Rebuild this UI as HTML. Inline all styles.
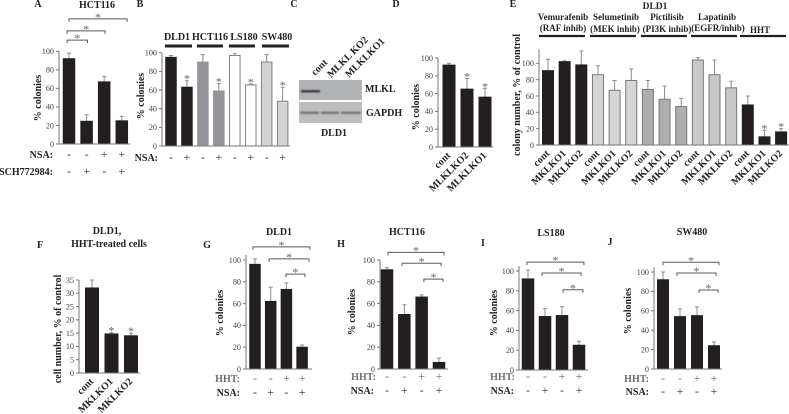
<!DOCTYPE html>
<html lang="en">
<head>
<meta charset="utf-8">
<title>Colony formation figure panels A-J</title>
<style>
html,body{margin:0;padding:0;background:#fff;width:789px;height:414px;overflow:hidden}
svg{display:block;filter:blur(.35px)}
text{font-family:"Liberation Serif",serif;fill:#231f20}
.b{font-weight:bold}
.tick{font-size:8.2px;fill:#444}
.axt{font-weight:bold;font-size:10px}
.cat{font-weight:bold;font-size:10px}
.star{font-size:12px;fill:#666;text-anchor:middle}
.sym{font-size:12px;text-anchor:middle;fill:#333}
</style>
</head>
<body>
<svg id="fig" xmlns="http://www.w3.org/2000/svg" width="789" height="414" viewBox="0 0 789 414">
<defs>
<filter id="bandBlur" x="-10%" y="-100%" width="120%" height="300%"><feGaussianBlur stdDeviation="0.7"></feGaussianBlur></filter>
</defs>
<g>
<rect x="299" y="80" width="63" height="20" fill="#b2b3b5"></rect>
<rect x="299" y="102" width="63" height="21" fill="#bdbec0"></rect>
<rect x="301" y="90" width="19" height="2.5" fill="#3a3a3c" filter="url(#bandBlur)"></rect>
<rect x="300" y="111.5" width="19" height="2.5" fill="#77787b" filter="url(#bandBlur)"></rect>
<rect x="321" y="111.5" width="18" height="2.5" fill="#77787b" filter="url(#bandBlur)"></rect>
<rect x="341" y="111.5" width="20" height="2.5" fill="#77787b" filter="url(#bandBlur)"></rect>
<text class="cat" text-anchor="start" transform="translate(315,76) rotate(-45)">cont</text>
<text class="cat" text-anchor="start" transform="translate(331,78) rotate(-45)">MLKL KO2</text>
<text class="cat" text-anchor="start" transform="translate(349,78) rotate(-45)">MLKLKO1</text>
<text class="b" x="365" y="92" font-size="10">MLKL</text>
<text class="b" x="366" y="116" font-size="10">GAPDH</text>
<text class="b" x="334" y="136" font-size="10" text-anchor="middle">DLD1</text>
</g>
</svg>
<script>
// ---- chart data ----
const tickLabels100 = [0, 20, 40, 60, 80, 100];
const tickLabels35 = [0, 5, 10, 15, 20, 25, 30, 35];

const panelAValues = [92, 24.5, 67, 25];
const panelAErrors = [6, 7, 6, 5];
const panelANsa = ['-', '-', '+', '+'];
const panelASch = ['-', '+', '-', '+'];

const panelBValues = [95, 63, 90, 59, 97, 65.5, 90, 48];
const panelBErrors = [2, 7, 8, 8, 2, 1, 8, 15];
const panelBNsa = ['-', '+', '-', '+', '-', '+', '-', '+'];
const panelBGroups = ['DLD1', 'HCT116', 'LS180', 'SW480'];

const panelDCats = ['cont', 'MLKLKO2', 'MLKLKO1'];
const panelDValues = [92, 65, 56];
const panelDErrors = [2, 12, 10];

const panelECats = ['cont', 'MKLKO1', 'MKLKO2', 'cont', 'MKLKO1', 'MKLKO2', 'cont', 'MKLKO1', 'MKLKO2', 'cont', 'MKLKO1', 'MKLKO2', 'cont', 'MKLKO1', 'MKLKO2'];
const panelEValues = [91, 102, 98, 86, 67, 79, 68, 56, 47, 104, 86, 70, 49, 10, 16];
const panelEErrors = [14, 1, 17, 11, 12, 14, 11, 16, 10, 3, 18, 8, 11, 8, 4];

const panelFCats = ['cont', 'MKLKO1', 'MKLKO2'];
const panelFValues = [32, 14.7, 14];
const panelFErrors = [3, 0.5, 1];

const panelGValues = [96, 62, 73, 20];
const panelGErrors = [5, 13, 6, 2];
const panelHValues = [91, 50, 66, 6];
const panelHErrors = [2, 9, 2, 4];
const panelIValues = [92, 54, 55, 25];
const panelIErrors = [9, 8, 9, 4];
const panelJValues = [92, 54, 55, 24];
const panelJErrors = [8, 8, 9, 4];
const hhtRow = ['-', '-', '+', '+'];
const nsaRow = ['-', '+', '-', '+'];

// ---- helpers ----
const NS = 'http://www.w3.org/2000/svg';
const root = document.getElementById('fig');

function make(parent, tag, attrs, txt) {
  const n = document.createElementNS(NS, tag);
  for (const k in attrs) n.setAttribute(k, attrs[k]);
  if (txt !== undefined) n.textContent = txt;
  parent.appendChild(n);
  return n;
}

function label(parent, name, attrs, txt) {
  const el = make(parent, 'text', attrs, txt);
  
  
  return el;
}

function panel(cfg) {
  const g = make(root, 'g', {});
  
  

  const y = v => cfg.y0 - (v / cfg.tickMax) * (cfg.y0 - cfg.yMax);
  const x = i => cfg.x0 + i * cfg.step;
  const axisTop = cfg.axisTop === undefined ? cfg.yMax : cfg.axisTop;

  cfg.values.forEach((v, i) => {
    const col = cfg.fill ? cfg.fill(i) : '#231f20';
    const stroke = cfg.stroke ? cfg.stroke(i) : col;
    const cx = x(i);
    const e = cfg.errors[i];
    const err = make(g, 'path', {
      d: 'M' + cx + ' ' + y(v) + 'V' + y(v + e) + 'M' + (cx - 2) + ' ' + y(v + e) + 'H' + (cx + 2),
      stroke: '#8a8c8e', 'stroke-width': 1, fill: 'none'
    });
    
    
    const bar = make(g, 'rect', {
      x: cx - cfg.w / 2, y: y(v), width: cfg.w, height: cfg.y0 - y(v),
      fill: col, stroke: stroke, 'stroke-width': 1
    });
    
    
    if (cfg.stars && cfg.stars.includes(i)) {
      label(g, 'significance-star', { class: 'star', x: cx, y: y(v + e) + 2 }, '*');
    }
  });

  const yAxis = make(g, 'line', { x1: cfg.axisX, x2: cfg.axisX, y1: axisTop, y2: cfg.y0, stroke: '#777', 'stroke-width': 1 });
  
  
  const xAxis = make(g, 'line', { x1: cfg.axisX - 3, x2: cfg.axisEnd, y1: cfg.y0, y2: cfg.y0, stroke: '#777', 'stroke-width': 1 });
  
  

  cfg.ticks.forEach(t => {
    make(g, 'line', { x1: cfg.axisX - 3, x2: cfg.axisX, y1: y(t), y2: y(t), stroke: '#777', 'stroke-width': 1 });
    label(g, 'y-tick-label', { class: 'tick', x: cfg.axisX - 5, y: y(t) + 2.8, 'text-anchor': 'end' }, t);
  });

  label(g, 'y-axis-title', { class: 'axt', 'text-anchor': 'middle', transform: 'translate(' + cfg.yTitleX + ',' + cfg.yTitleY + ') rotate(-90)' }, cfg.yTitle);

  if (cfg.cats) {
    cfg.cats.forEach((c, i) => {
      label(g, 'x-category-label', { class: 'cat', 'text-anchor': 'end', transform: 'translate(' + (x(i) + 2) + ',' + (cfg.y0 + 9) + ') rotate(-45)' }, c);
    });
  }

  (cfg.rows || []).forEach(r => {
    label(g, 'row-label', { class: 'b', x: r.labelX, y: r.y, 'font-size': 10, 'text-anchor': 'end', style: 'fill:' + (r.color || '#231f20') }, r.label);
    r.marks.forEach((m, i) => {
      label(g, 'row-mark', { class: 'sym', x: x(i), y: r.y, style: 'fill:' + (r.color || '#333') }, m);
    });
  });

  (cfg.brackets || []).forEach(b => {
    const x1 = x(b[0]), x2 = x(b[1]), yy = y(b[2]);
    const br = make(g, 'path', {
      d: 'M' + x1 + ' ' + (yy + 3) + 'V' + yy + 'H' + x2 + 'V' + (yy + 3),
      fill: 'none', stroke: '#58595b', 'stroke-width': 1
    });
    
    
    label(g, 'significance-star', { class: 'star', x: (x1 + x2) / 2, y: yy + 2 }, '*');
  });
}

function header(name, x, y, txt, size) {
  label(root, name, { class: 'b', x: x, y: y, 'font-size': size || 10, 'text-anchor': 'middle' }, txt);
}

function rule(name, x1, x2, y, h) {
  const r = make(root, 'rect', { x: x1, y: y - h / 2, width: x2 - x1, height: h, fill: '#231f20' });
  
  
}

// ---- panels ----
panel({
  id: 'a', values: panelAValues, errors: panelAErrors, ticks: tickLabels100, tickMax: 100,
  y0: 144, yMax: 51.3, x0: 69, step: 17.6, w: 11.5, axisX: 59, axisEnd: 130,
  yTitle: '% colonies', yTitleX: 41, yTitleY: 98,
  rows: [
    { label: 'NSA:', labelX: 53, y: 158, marks: panelANsa },
    { label: 'SCH772984:', labelX: 53, y: 175, marks: panelASch }
  ],
  brackets: [[-0.11, 1.05, 112], [-0.11, 2.05, 122], [0, 3.3, 135]]
});

const groupFill = ['#231f20', '#231f20', '#939598', '#939598', '#ffffff', '#ffffff', '#d1d3d4', '#d1d3d4'];
const groupStroke = ['#231f20', '#231f20', '#939598', '#939598', '#808285', '#808285', '#808285', '#808285'];
panel({
  id: 'b', values: panelBValues, errors: panelBErrors, ticks: tickLabels100, tickMax: 100,
  y0: 146, yMax: 52.7, x0: 171, step: 15.95, w: 10.5, axisX: 162, axisEnd: 290,
  yTitle: '% colonies', yTitleX: 144, yTitleY: 96, stars: [1, 3, 5, 7],
  fill: i => groupFill[i], stroke: i => groupStroke[i],
  rows: [{ label: 'NSA:', labelX: 158, y: 161, marks: panelBNsa }]
});

panel({
  id: 'd', values: panelDValues, errors: panelDErrors, ticks: tickLabels100, tickMax: 100,
  y0: 147, yMax: 58, x0: 449, step: 18, w: 12, axisX: 438, axisEnd: 493,
  yTitle: '% colonies', yTitleX: 419, yTitleY: 107, stars: [1, 2], cats: panelDCats
});

const eFill = ['#231f20', '#d4d6d6', '#acaeb0', '#c6c8c9', '#231f20'];
panel({
  id: 'e', values: panelEValues, errors: panelEErrors, ticks: tickLabels100, tickMax: 100,
  y0: 145, yMax: 63.3, axisTop: 49, x0: 548, step: 16.65, w: 11, axisX: 539, axisEnd: 789,
  yTitle: 'colony number, % of control', yTitleX: 520, yTitleY: 95, stars: [13, 14], cats: panelECats,
  fill: i => eFill[Math.floor(i / 3)],
  stroke: i => Math.floor(i / 3) % 4 === 0 ? '#231f20' : '#77787b'
});

panel({
  id: 'f', values: panelFValues, errors: panelFErrors, ticks: tickLabels35, tickMax: 35,
  y0: 373, yMax: 280, x0: 92, step: 19.5, w: 13, axisX: 79, axisEnd: 140,
  yTitle: 'cell number, % of control', yTitleX: 61, yTitleY: 329, stars: [1, 2], cats: panelFCats
});

panel({
  id: 'g', values: panelGValues, errors: panelGErrors, ticks: tickLabels100, tickMax: 100,
  y0: 369, yMax: 260, axisTop: 255, x0: 255, step: 15.7, w: 10.5, axisX: 246, axisEnd: 312,
  yTitle: '% colonies', yTitleX: 223, yTitleY: 313,
  rows: [
    { label: 'HHT:', labelX: 240, y: 382, marks: hhtRow, color: '#6d6e71' },
    { label: 'NSA:', labelX: 240, y: 396, marks: nsaRow }
  ],
  brackets: [[-0.13, 3.5, 112], [0.9, 3.44, 101], [1.97, 3.18, 87]]
});

panel({
  id: 'h', values: panelHValues, errors: panelHErrors, ticks: tickLabels100, tickMax: 100,
  y0: 369, yMax: 260, x0: 387, step: 17.33, w: 11.5, axisX: 380, axisEnd: 448,
  yTitle: '% colonies', yTitleX: 355, yTitleY: 312,
  rows: [
    { label: 'HHT:', labelX: 376, y: 380, marks: hhtRow, color: '#6d6e71' },
    { label: 'NSA:', labelX: 374, y: 394, marks: nsaRow }
  ],
  brackets: [[0.06, 3.29, 107], [0.87, 3.12, 97], [2.13, 3.23, 82.5]]
});

panel({
  id: 'i', values: panelIValues, errors: panelIErrors, ticks: tickLabels100, tickMax: 100,
  y0: 370, yMax: 271, axisTop: 266, x0: 528, step: 17, w: 11.5, axisX: 519, axisEnd: 588,
  yTitle: '% colonies', yTitleX: 497, yTitleY: 313,
  rows: [
    { label: 'HHT:', labelX: 515, y: 380, marks: hhtRow, color: '#6d6e71' },
    { label: 'NSA:', labelX: 514, y: 394, marks: nsaRow }
  ],
  brackets: [[-0.06, 3.29, 109], [0.82, 3.12, 98], [2.06, 3.23, 81]]
});

panel({
  id: 'j', values: panelJValues, errors: panelJErrors, ticks: tickLabels100, tickMax: 100,
  y0: 369, yMax: 272, axisTop: 267, x0: 663, step: 17, w: 11, axisX: 654, axisEnd: 722,
  yTitle: '% colonies', yTitleX: 631, yTitleY: 311,
  rows: [
    { label: 'HHT:', labelX: 649, y: 382, marks: hhtRow, color: '#6d6e71' },
    { label: 'NSA:', labelX: 649, y: 395, marks: nsaRow }
  ],
  brackets: [[0, 3.29, 110], [0.82, 3.12, 99], [2.12, 3.24, 81.5]]
});

// ---- titles, panel letters, group rules ----
[['A', 38, 7], ['B', 140, 7], ['C', 294, 7], ['D', 396, 7], ['E', 513, 7], ['F', 40, 248], ['G', 207, 248], ['H', 341, 247], ['I', 483, 246], ['J', 610, 245]].forEach(l => {
  header('panel-letter', l[1], l[2], l[0], 10);
});

header('panel-a-title', 97, 8, 'HCT116', 10);

const bCenters = [177, 210, 244, 277];
panelBGroups.forEach((t, i) => {
  header('panel-b-group-title', bCenters[i], 40, t, 10);
});
rule('panel-b-rule-dld1', 165, 192, 46, 3);
rule('panel-b-rule-hct116', 197, 223, 46, 3);
rule('panel-b-rule-ls180', 229, 255, 46, 3);
rule('panel-b-rule-sw480', 262, 289, 46, 3);

header('panel-e-title', 655, 9, 'DLD1', 9.5);
header('panel-e-drug', 563, 20, 'Vemurafenib', 9);
header('panel-e-target', 563, 31, '(RAF inhib)', 9);
header('panel-e-drug', 616, 20, 'Selumetinib', 9);
header('panel-e-target', 615, 32, '(MEK inhib)', 9);
header('panel-e-drug', 667, 20, 'Pictilisib', 9);
header('panel-e-target', 667, 32, '(PI3K inhib)', 9);
header('panel-e-drug', 717, 20, 'Lapatinib', 9);
header('panel-e-target', 718, 31, '(EGFR/inhib)', 9);
header('panel-e-drug', 760, 33, 'HHT', 9);
rule('panel-e-rule-raf', 539, 585, 36, 2.2);
rule('panel-e-rule-mek', 590, 636, 36, 2.2);
rule('panel-e-rule-pi3k', 641, 687, 36, 2.2);
rule('panel-e-rule-egfr', 691, 737, 36, 2.2);
rule('panel-e-rule-hht', 740, 786, 36, 2.2);

header('panel-f-title-line1', 107, 234, 'DLD1,', 10);
header('panel-f-title-line2', 109, 247, 'HHT-treated cells', 10);
header('panel-g-title', 279, 235, 'DLD1', 10);
header('panel-h-title', 407, 235, 'HCT116', 10);
header('panel-i-title', 551, 236, 'LS180', 10);
header('panel-j-title', 692, 235, 'SW480', 10);
</script>
</body>
</html>
